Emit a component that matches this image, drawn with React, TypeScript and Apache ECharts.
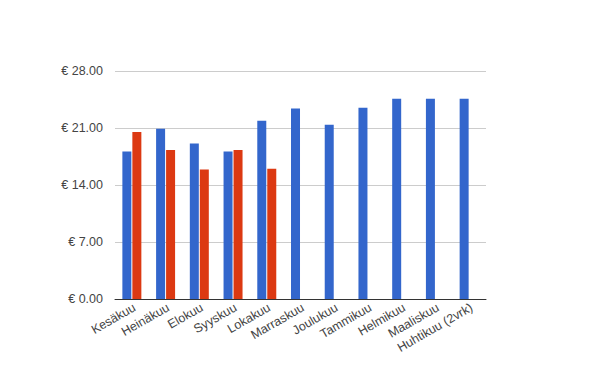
import React, { useEffect, useRef } from "react";
import * as echarts from "echarts";

const categories = [
  "Kesäkuu",
  "Heinäkuu",
  "Elokuu",
  "Syyskuu",
  "Lokakuu",
  "Marraskuu",
  "Joulukuu",
  "Tammikuu",
  "Helmikuu",
  "Maaliskuu",
  "Huhtikuu (2vrk)",
];
const blueValues = [18.1, 20.9, 19.1, 18.1, 21.9, 23.4, 21.4, 23.5, 24.6, 24.6, 24.6];
const redValues: (number | null)[] = [20.5, 18.3, 15.9, 18.3, 16.0, null, null, null, null, null, null];
const yTicks = { min: 0, max: 28, interval: 7 };

export default function App() {
  const ref = useRef<HTMLDivElement>(null);
  useEffect(() => {
    document.body.style.margin = "0";
    const chart = echarts.init(ref.current!, null, { renderer: "svg" });
    const font = "Liberation Sans, Arial, sans-serif";
    chart.setOption({
      animation: false,
      backgroundColor: "#ffffff",
      grid: { left: 115, right: 114, top: 71, bottom: 72 },
      xAxis: {
        type: "category",
        data: categories,
        axisLine: { show: true, lineStyle: { color: "#333333", width: 1 } },
        axisTick: { show: false },
        axisLabel: {
          rotate: 30,
          interval: 0,
          color: "#444444",
          fontSize: 12.5,
          fontFamily: font,
          margin: 9,
          padding: [0, -3, 0, 0],
        },
      },
      yAxis: {
        type: "value",
        min: yTicks.min,
        max: yTicks.max,
        interval: yTicks.interval,
        axisLine: { show: false },
        axisTick: { show: false },
        splitLine: { lineStyle: { color: "#cccccc", width: 1 } },
        axisLabel: {
          color: "#444444",
          fontSize: 12.5,
          fontFamily: font,
          margin: 12,
          formatter: (v: number) => "€ " + v.toFixed(2),
        },
      },
      series: [
        {
          type: "bar",
          data: blueValues,
          barWidth: 9,
          barGap: "11%",
          itemStyle: { color: "#3366cc" },
        },
        {
          type: "bar",
          data: redValues,
          barWidth: 9,
          itemStyle: { color: "#dc3912" },
        },
      ],
    });
    return () => chart.dispose();
  }, []);
  return <div ref={ref} style={{ width: 600, height: 371 }} />;
}
